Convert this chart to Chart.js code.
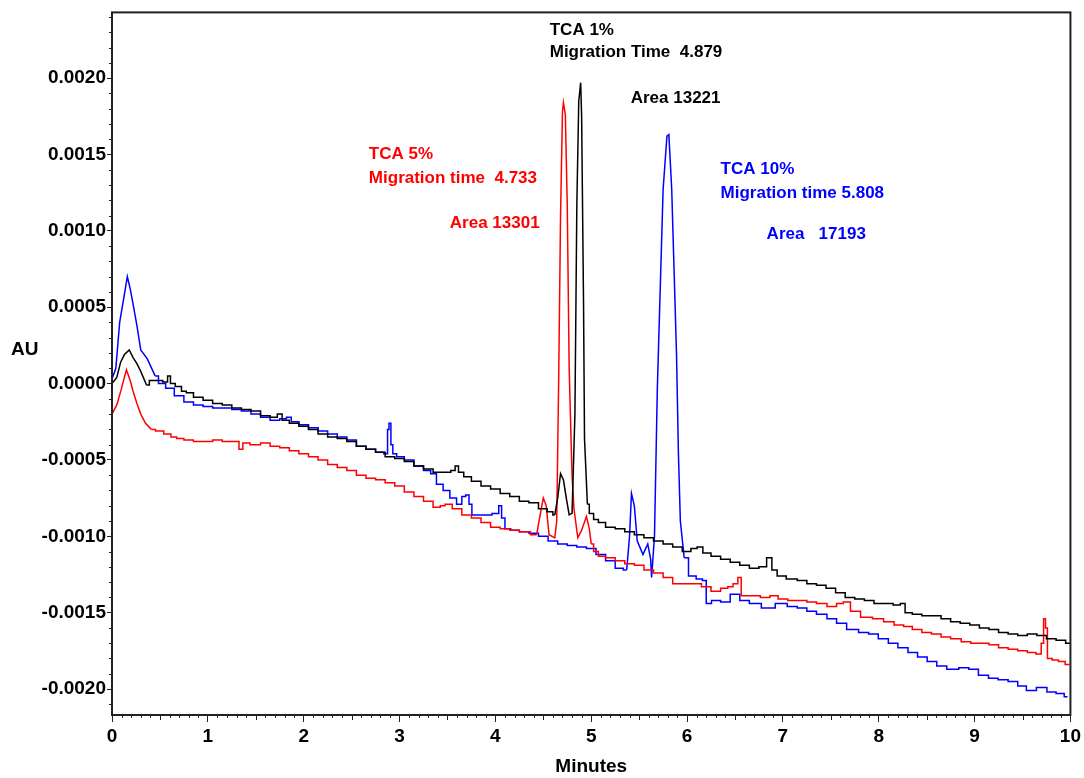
<!DOCTYPE html>
<html>
<head>
<meta charset="utf-8">
<title>TCA electropherogram</title>
<script src="https://cdn.jsdelivr.net/npm/chart.js@4.4.1/dist/chart.umd.min.js"></script>
<style>
  html, body { margin: 0; padding: 0; background: #ffffff; }
  #wrap { width: 1084px; height: 778px; }
</style>
</head>
<body>
<div id="wrap"><canvas id="electroChart" width="1084" height="778"></canvas></div>
<script>
// tick labels
const xTickValues = [0, 1, 2, 3, 4, 5, 6, 7, 8, 9, 10];
const yTickValues = [-0.002, -0.0015, -0.001, -0.0005, 0, 0.0005, 0.001, 0.0015, 0.002];

// TCA 1% (black)
const tca1Time = [0.00, 0.05, 0.09, 0.13, 0.18, 0.22, 0.26, 0.30, 0.36, 0.42, 0.50, 0.56, 0.60, 0.62, 0.70, 0.75,
  0.80, 0.90, 1.00, 1.10, 1.20, 1.30, 1.40, 1.50, 1.60, 1.70, 1.75, 1.80, 1.90, 2.00, 2.10, 2.20, 2.30, 2.40,
  2.50, 2.60, 2.70, 2.80, 2.90, 3.00, 3.10, 3.20, 3.30, 3.40, 3.50, 3.57, 3.59, 3.64, 3.70, 3.80, 3.90, 4.00,
  4.10, 4.20, 4.30, 4.40, 4.50, 4.58, 4.62, 4.65, 4.68, 4.71, 4.74, 4.77, 4.80, 4.83, 4.85, 4.87, 4.89, 4.90,
  4.92, 4.93, 4.96, 5.00, 5.05, 5.10, 5.20, 5.30, 5.40, 5.50, 5.60, 5.70, 5.80, 5.90, 6.00, 6.08, 6.13, 6.20,
  6.30, 6.40, 6.50, 6.60, 6.70, 6.80, 6.86, 6.91, 6.97, 7.10, 7.20, 7.30, 7.40, 7.50, 7.60, 7.70, 7.80, 7.90,
  8.00, 8.10, 8.20, 8.25, 8.30, 8.40, 8.50, 8.60, 8.70, 8.80, 8.90, 9.00, 9.10, 9.20, 9.30, 9.40, 9.50, 9.60,
  9.70, 9.80, 9.90, 10.00];
const tca1AU = [0.00000, 0.00004, 0.00014, 0.00019, 0.00022, 0.00017, 0.00013, 0.00008, -0.00001, 0.00002,
  0.00002, 0.00001, 0.00005, 0.00000, -0.00002, -0.00005, -0.00006, -0.00009, -0.00011, -0.00013, -0.00014,
  -0.00016, -0.00017, -0.00018, -0.00021, -0.00022, -0.00020, -0.00024, -0.00026, -0.00028, -0.00030,
  -0.00033, -0.00035, -0.00036, -0.00038, -0.00041, -0.00043, -0.00045, -0.00048, -0.00049, -0.00051,
  -0.00054, -0.00056, -0.00058, -0.00058, -0.00057, -0.00054, -0.00058, -0.00061, -0.00064, -0.00067,
  -0.00069, -0.00072, -0.00074, -0.00077, -0.00078, -0.00082, -0.00084, -0.00086, -0.00075, -0.00059,
  -0.00063, -0.00075, -0.00086, -0.00085, -0.00020, 0.00117, 0.00185, 0.00197, 0.00175, 0.00052, -0.00036,
  -0.00079, -0.00085, -0.00089, -0.00091, -0.00094, -0.00095, -0.00097, -0.00099, -0.00101, -0.00103,
  -0.00105, -0.00107, -0.00110, -0.00108, -0.00107, -0.00111, -0.00113, -0.00115, -0.00117, -0.00119,
  -0.00121, -0.00120, -0.00114, -0.00122, -0.00126, -0.00128, -0.00129, -0.00131, -0.00132, -0.00134,
  -0.00137, -0.00140, -0.00141, -0.00142, -0.00144, -0.00144, -0.00145, -0.00144, -0.00150, -0.00151,
  -0.00152, -0.00152, -0.00154, -0.00156, -0.00157, -0.00158, -0.00160, -0.00161, -0.00163, -0.00164,
  -0.00165, -0.00164, -0.00165, -0.00167, -0.00168, -0.00170];

// TCA 5% (red)
const tca5Time = [0.00, 0.05, 0.10, 0.15, 0.19, 0.22, 0.26, 0.30, 0.35, 0.41, 0.50, 0.58, 0.65, 0.70, 0.80, 0.90,
  1.00, 1.10, 1.20, 1.30, 1.35, 1.38, 1.50, 1.60, 1.70, 1.80, 1.90, 2.00, 2.10, 2.20, 2.30, 2.40, 2.50, 2.60,
  2.70, 2.80, 2.90, 3.00, 3.10, 3.20, 3.30, 3.40, 3.45, 3.50, 3.60, 3.70, 3.80, 3.90, 4.00, 4.10, 4.20, 4.30,
  4.43, 4.47, 4.50, 4.53, 4.56, 4.62, 4.64, 4.66, 4.68, 4.70, 4.71, 4.73, 4.75, 4.77, 4.78, 4.80, 4.82, 4.86,
  4.90, 4.95, 4.98, 5.00, 5.05, 5.10, 5.20, 5.30, 5.40, 5.50, 5.60, 5.70, 5.80, 5.90, 6.00, 6.10, 6.20, 6.30,
  6.40, 6.45, 6.51, 6.55, 6.58, 6.70, 6.83, 6.90, 7.00, 7.10, 7.20, 7.30, 7.40, 7.52, 7.60, 7.66, 7.75, 7.87,
  8.00, 8.10, 8.22, 8.30, 8.40, 8.50, 8.60, 8.70, 8.80, 8.92, 9.00, 9.10, 9.20, 9.30, 9.40, 9.50, 9.60, 9.68,
  9.71, 9.73, 9.75, 9.77, 9.85, 9.90, 9.99];
const tca5AU = [-0.00020, -0.00014, -0.00003, 0.00009, 0.00002, -0.00005, -0.00013, -0.00020, -0.00026,
  -0.00030, -0.00031, -0.00033, -0.00035, -0.00036, -0.00037, -0.00038, -0.00038, -0.00037, -0.00038,
  -0.00038, -0.00043, -0.00039, -0.00040, -0.00039, -0.00041, -0.00042, -0.00044, -0.00046, -0.00048,
  -0.00050, -0.00053, -0.00055, -0.00057, -0.00060, -0.00062, -0.00063, -0.00065, -0.00067, -0.00071,
  -0.00074, -0.00077, -0.00081, -0.00080, -0.00079, -0.00082, -0.00086, -0.00088, -0.00091, -0.00094,
  -0.00095, -0.00096, -0.00097, -0.00099, -0.00085, -0.00075, -0.00080, -0.00099, -0.00101, -0.00090,
  0.00000, 0.00110, 0.00178, 0.00184, 0.00176, 0.00117, 0.00010, -0.00014, -0.00060, -0.00082, -0.00101,
  -0.00096, -0.00087, -0.00095, -0.00105, -0.00110, -0.00113, -0.00114, -0.00116, -0.00118, -0.00119,
  -0.00122, -0.00124, -0.00127, -0.00131, -0.00131, -0.00131, -0.00133, -0.00136, -0.00134, -0.00133,
  -0.00131, -0.00127, -0.00139, -0.00139, -0.00140, -0.00139, -0.00141, -0.00142, -0.00142, -0.00143,
  -0.00144, -0.00146, -0.00144, -0.00143, -0.00149, -0.00153, -0.00154, -0.00156, -0.00158, -0.00159,
  -0.00161, -0.00163, -0.00164, -0.00166, -0.00167, -0.00169, -0.00170, -0.00170, -0.00171, -0.00173,
  -0.00174, -0.00175, -0.00176, -0.00177, -0.00170, -0.00154, -0.00160, -0.00180, -0.00181, -0.00182,
  -0.00184];

// TCA 10% (blue)
const tca10Time = [0.00, 0.04, 0.08, 0.12, 0.16, 0.19, 0.22, 0.26, 0.30, 0.37, 0.45, 0.52, 0.60, 0.70, 0.80,
  0.90, 1.00, 1.10, 1.20, 1.30, 1.40, 1.50, 1.60, 1.70, 1.80, 1.84, 1.90, 2.00, 2.10, 2.20, 2.30, 2.40, 2.50,
  2.60, 2.70, 2.80, 2.87, 2.88, 2.90, 2.92, 2.94, 3.00, 3.10, 3.20, 3.30, 3.35, 3.42, 3.49, 3.56, 3.63, 3.67,
  3.71, 3.74, 3.77, 3.85, 3.91, 4.02, 4.05, 4.08, 4.12, 4.20, 4.30, 4.40, 4.50, 4.60, 4.70, 4.80, 4.90, 5.00,
  5.10, 5.20, 5.30, 5.37, 5.40, 5.42, 5.45, 5.48, 5.54, 5.59, 5.62, 5.63, 5.66, 5.69, 5.72, 5.75, 5.79, 5.81,
  5.84, 5.86, 5.89, 5.91, 5.93, 5.97, 6.06, 6.13, 6.19, 6.21, 6.30, 6.40, 6.50, 6.60, 6.70, 6.85, 6.99, 7.10,
  7.20, 7.30, 7.40, 7.52, 7.60, 7.73, 7.85, 7.94, 8.05, 8.15, 8.25, 8.36, 8.45, 8.56, 8.65, 8.77, 8.90, 8.98,
  9.10, 9.19, 9.30, 9.40, 9.50, 9.58, 9.71, 9.80, 9.90, 9.97];
const tca10AU = [0.00003, 0.00010, 0.00040, 0.00055, 0.00070, 0.00062, 0.00052, 0.00038, 0.00022, 0.00016,
  0.00005, 0.00000, -0.00003, -0.00008, -0.00012, -0.00014, -0.00015, -0.00016, -0.00016, -0.00017,
  -0.00018, -0.00020, -0.00022, -0.00024, -0.00023, -0.00022, -0.00025, -0.00027, -0.00029, -0.00031,
  -0.00033, -0.00035, -0.00037, -0.00041, -0.00043, -0.00045, -0.00046, -0.00030, -0.00026, -0.00040,
  -0.00046, -0.00048, -0.00050, -0.00054, -0.00057, -0.00059, -0.00066, -0.00070, -0.00075, -0.00079,
  -0.00074, -0.00073, -0.00079, -0.00086, -0.00086, -0.00086, -0.00085, -0.00080, -0.00088, -0.00095,
  -0.00096, -0.00097, -0.00098, -0.00100, -0.00103, -0.00105, -0.00106, -0.00107, -0.00108, -0.00112,
  -0.00116, -0.00121, -0.00122, -0.00100, -0.00072, -0.00080, -0.00103, -0.00112, -0.00105, -0.00115,
  -0.00127, -0.00100, -0.00003, 0.00062, 0.00127, 0.00162, 0.00163, 0.00127, 0.00084, 0.00019, -0.00046,
  -0.00090, -0.00114, -0.00126, -0.00128, -0.00129, -0.00144, -0.00142, -0.00143, -0.00138, -0.00142,
  -0.00144, -0.00147, -0.00144, -0.00146, -0.00147, -0.00149, -0.00151, -0.00154, -0.00157, -0.00161,
  -0.00163, -0.00164, -0.00167, -0.00170, -0.00173, -0.00176, -0.00179, -0.00182, -0.00185, -0.00187,
  -0.00186, -0.00187, -0.00191, -0.00193, -0.00194, -0.00195, -0.00198, -0.00201, -0.00199, -0.00202,
  -0.00203, -0.00205];

// time windows drawn as straight lines (peaks); the rest keeps the detector's staircase look
const tca1PeakWindows = [[0.00, 0.36], [4.62, 4.96]];
const tca5PeakWindows = [[0.00, 0.41], [4.43, 5.00]];
const tca10PeakWindows = [[0.00, 0.45], [5.37, 5.97]];

// peak annotations (placed in data coordinates)
const noteText = ["TCA 1%", "Migration Time  4.879", "Area 13221",
  "TCA 5%", "Migration time  4.733", "Area 13301",
  "TCA 10%", "Migration time 5.808", "Area   17193"];
const noteTime = [4.567, 4.567, 5.412, 2.680, 2.680, 3.525, 6.350, 6.350, 6.830];
const noteAU = [0.002281, 0.002137, 0.001837, 0.001471, 0.001314, 0.00102, 0.001373, 0.001216, 0.000948];
const noteColor = ["#000000", "#000000", "#000000", "#ff0000", "#ff0000", "#ff0000", "#0000ff", "#0000ff", "#0000ff"];

const FONT_FAMILY = "'Liberation Sans', Arial, sans-serif";

// inside a window (edges included) / strictly inside a window
const inWindow = (t, windows) => windows.some(([a, b]) => t >= a && t <= b);
const insideWindow = (t, windows) => windows.some(([a, b]) => t > a && t < b);

// frame, minor ticks, "AU" label and the peak notes
const decorPlugin = {
  id: "decor",
  afterDraw: (chart) => {
    const { ctx, chartArea, scales } = chart;
    const xs = scales.x;
    const ys = scales.y;
    ctx.save();

    // minor ticks on x
    ctx.strokeStyle = "#222";
    ctx.lineWidth = 1;
    for (let i = 0; i <= 100; i++) {
      if (i % 10 === 0) continue;
      const px = Math.round(xs.getPixelForValue(i / 10)) + 0.5;
      const len = i % 5 === 0 ? 5 : 3;
      ctx.beginPath();
      ctx.moveTo(px, chartArea.bottom);
      ctx.lineTo(px, chartArea.bottom + len);
      ctx.stroke();
    }
    // minor ticks on y
    for (let i = -21; i <= 24; i++) {
      if (i % 5 === 0) continue;
      const py = Math.round(ys.getPixelForValue(i / 10000)) + 0.5;
      ctx.beginPath();
      ctx.moveTo(chartArea.left, py);
      ctx.lineTo(chartArea.left - 3, py);
      ctx.stroke();
    }

    // frame
    ctx.strokeStyle = "#222";
    ctx.lineWidth = 2;
    ctx.strokeRect(chartArea.left, chartArea.top, chartArea.right - chartArea.left, chartArea.bottom - chartArea.top);

    // y axis title, written horizontally
    ctx.fillStyle = "#000";
    ctx.font = "bold 19px " + FONT_FAMILY;
    ctx.textAlign = "left";
    ctx.textBaseline = "middle";
    ctx.fillText("AU", 11, 350);

    // peak notes
    ctx.font = "bold 17px " + FONT_FAMILY;
    ctx.textBaseline = "alphabetic";
    noteText.forEach((text, i) => {
      ctx.fillStyle = noteColor[i];
      ctx.fillText(text, xs.getPixelForValue(noteTime[i]), ys.getPixelForValue(noteAU[i]));
    });
    ctx.restore();
  },
};

// one trace = a stepped baseline part + a straight part for the peaks
const makeSeries = (label, times, values, windows, color) => {
  const common = {
    label: label,
    borderColor: color,
    backgroundColor: color,
    borderWidth: 1.5,
    pointRadius: 0,
    spanGaps: false,
    fill: false,
  };
  return [
    {
      ...common,
      stepped: "middle",
      data: times.map((t, i) => ({ x: t, y: insideWindow(t, windows) ? null : values[i] })),
    },
    {
      ...common,
      stepped: false,
      tension: 0,
      data: times.map((t, i) => ({ x: t, y: inWindow(t, windows) ? values[i] : null })),
    },
  ];
};

const ctx = document.getElementById("electroChart").getContext("2d");
new Chart(ctx, {
  type: "line",
  data: {
    datasets: [
      ...makeSeries("TCA 1%", tca1Time, tca1AU, tca1PeakWindows, "#000000"),
      ...makeSeries("TCA 5%", tca5Time, tca5AU, tca5PeakWindows, "#ff0000"),
      ...makeSeries("TCA 10%", tca10Time, tca10AU, tca10PeakWindows, "#0000ff"),
    ],
  },
  options: {
    responsive: false,
    animation: false,
    events: [],
    layout: { padding: { top: 10, right: 13, left: 0, bottom: 0 } },
    plugins: {
      legend: { display: false },
      tooltip: { enabled: false },
    },
    scales: {
      x: {
        type: "linear",
        min: 0,
        max: 10,
        afterFit: (scale) => { scale.height = 63; },
        afterBuildTicks: (scale) => { scale.ticks = xTickValues.map((v) => ({ value: v })); },
        border: { display: false },
        grid: { drawOnChartArea: false, drawTicks: true, tickLength: 7, color: "#222" },
        ticks: {
          color: "#000",
          padding: 3,
          maxRotation: 0,
          autoSkip: false,
          font: { family: FONT_FAMILY, size: 19, weight: "bold" },
          callback: (v) => String(v),
        },
        title: {
          display: true,
          text: "Minutes",
          color: "#000",
          padding: { top: 0, bottom: 0 },
          font: { family: FONT_FAMILY, size: 19, weight: "bold" },
        },
      },
      y: {
        type: "linear",
        min: -0.00217,
        max: 0.00243,
        afterFit: (scale) => { scale.width = 112; },
        afterBuildTicks: (scale) => { scale.ticks = yTickValues.map((v) => ({ value: v })); },
        border: { display: false },
        grid: { drawOnChartArea: false, drawTicks: true, tickLength: 5, color: "#222" },
        ticks: {
          color: "#000",
          padding: 1,
          autoSkip: false,
          font: { family: FONT_FAMILY, size: 19, weight: "bold" },
          callback: (v) => Number(v).toFixed(4),
        },
      },
    },
  },
  plugins: [decorPlugin],
});
</script>
</body>
</html>
